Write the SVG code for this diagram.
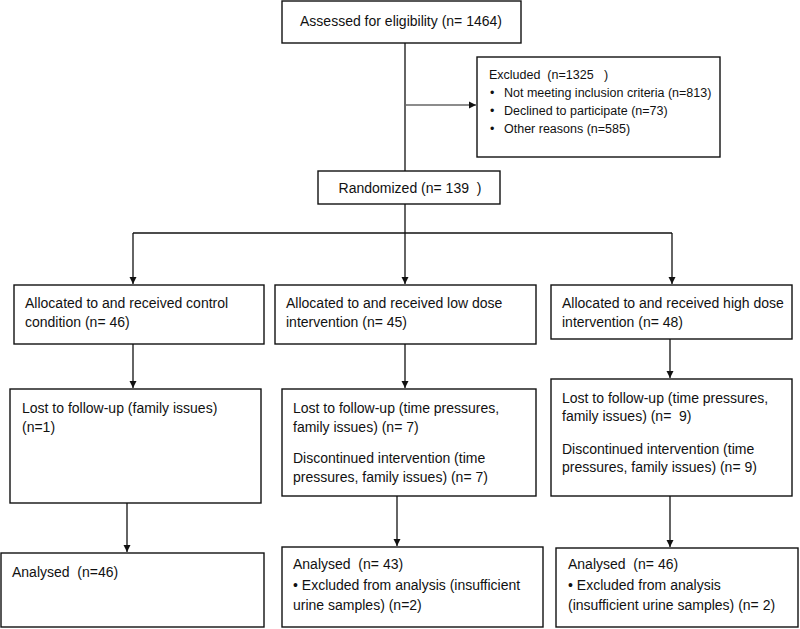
<svg xmlns="http://www.w3.org/2000/svg" width="800" height="629" viewBox="0 0 800 629">
<defs>
<marker id="ah" markerWidth="8" markerHeight="8" refX="7" refY="4" orient="auto" markerUnits="userSpaceOnUse">
<path d="M0,0.5 L7,4 L0,7.5 Z" fill="#111"/>
</marker>
</defs>
<style>
rect.box{fill:#fff;stroke:#111;stroke-width:1.4}
text{font-family:"Liberation Sans",Arial,sans-serif;font-size:14px;fill:#111}
text.s{font-size:12.5px}
.c path,.c line{stroke:#111;stroke-width:1.3;fill:none}
</style>
<rect width="800" height="629" fill="#fff"/>
<g class="c" id="connectors">
<line x1="405" y1="43" x2="405" y2="171"/>
<line x1="405" y1="105" x2="476" y2="105" style="stroke:#666" marker-end="url(#ah)"/>
<line x1="405" y1="204" x2="405" y2="284" marker-end="url(#ah)"/>
<path d="M133,233 H672"/>
<line x1="133" y1="233" x2="133" y2="284" marker-end="url(#ah)"/>
<line x1="672" y1="233" x2="672" y2="284" marker-end="url(#ah)"/>
<line x1="133" y1="344" x2="133" y2="388" marker-end="url(#ah)"/>
<line x1="405" y1="344" x2="405" y2="388" marker-end="url(#ah)"/>
<line x1="670" y1="339" x2="670" y2="378" marker-end="url(#ah)"/>
<line x1="127" y1="503" x2="127" y2="552" marker-end="url(#ah)"/>
<line x1="397" y1="496" x2="397" y2="546" marker-end="url(#ah)"/>
<line x1="670" y1="496" x2="670" y2="547" marker-end="url(#ah)"/>
</g>
<g id="assessed">
<rect class="box" x="282" y="1" width="239" height="42"/>
<text x="401" y="26" text-anchor="middle">Assessed for eligibility (n= 1464)</text>
</g>
<g id="excluded">
<rect class="box" x="477" y="57" width="243" height="100"/>
<text class="s" x="489" y="79" xml:space="preserve">Excluded  (n=1325   )</text>
<text class="s" x="490" y="97">•</text><text class="s" x="504" y="97">Not meeting inclusion criteria (n=813)</text>
<text class="s" x="490" y="115">•</text><text class="s" x="504" y="115">Declined to participate (n=73)</text>
<text class="s" x="490" y="133">•</text><text class="s" x="504" y="133">Other reasons (n=585)</text>
</g>
<g id="randomized">
<rect class="box" x="318" y="171" width="182" height="33"/>
<text x="410" y="193" text-anchor="middle" xml:space="preserve">Randomized (n= 139  )</text>
</g>
<g id="alloc-control">
<rect class="box" x="14" y="285" width="250" height="59"/>
<text x="25" y="308">Allocated to and received control</text>
<text x="25" y="327">condition (n= 46)</text>
</g>
<g id="alloc-low">
<rect class="box" x="275" y="285" width="261" height="59"/>
<text x="286" y="308">Allocated to and received low dose</text>
<text x="286" y="327">intervention (n= 45)</text>
</g>
<g id="alloc-high">
<rect class="box" x="551" y="285" width="241" height="54"/>
<text x="562" y="308">Allocated to and received high dose</text>
<text x="562" y="327">intervention (n= 48)</text>
</g>
<g id="lost-control">
<rect class="box" x="10" y="389" width="251" height="114"/>
<text x="22" y="413">Lost to follow-up (family issues)</text>
<text x="22" y="432">(n=1)</text>
</g>
<g id="lost-low">
<rect class="box" x="282" y="389" width="254" height="107"/>
<text x="293" y="413">Lost to follow-up (time pressures,</text>
<text x="293" y="432">family issues) (n= 7)</text>
<text x="293" y="463">Discontinued intervention (time</text>
<text x="293" y="482">pressures, family issues) (n= 7)</text>
</g>
<g id="lost-high">
<rect class="box" x="551" y="379" width="241" height="117"/>
<text x="562" y="403">Lost to follow-up (time pressures,</text>
<text x="562" y="421" xml:space="preserve">family issues) (n=  9)</text>
<text x="562" y="454">Discontinued intervention (time</text>
<text x="562" y="472">pressures, family issues) (n= 9)</text>
</g>
<g id="analysed-control">
<rect class="box" x="1" y="553" width="263" height="74"/>
<text x="12" y="577" xml:space="preserve">Analysed  (n=46)</text>
</g>
<g id="analysed-low">
<rect class="box" x="282" y="547" width="261" height="80"/>
<text x="293" y="569" xml:space="preserve">Analysed  (n= 43)</text>
<text x="293" y="590">• Excluded from analysis (insufficient</text>
<text x="293" y="610">urine samples) (n=2)</text>
</g>
<g id="analysed-high">
<rect class="box" x="556" y="548" width="242" height="79"/>
<text x="568" y="569" xml:space="preserve">Analysed  (n= 46)</text>
<text x="568" y="590">• Excluded from analysis</text>
<text x="568" y="610">(insufficient urine samples) (n= 2)</text>
</g>
</svg>
